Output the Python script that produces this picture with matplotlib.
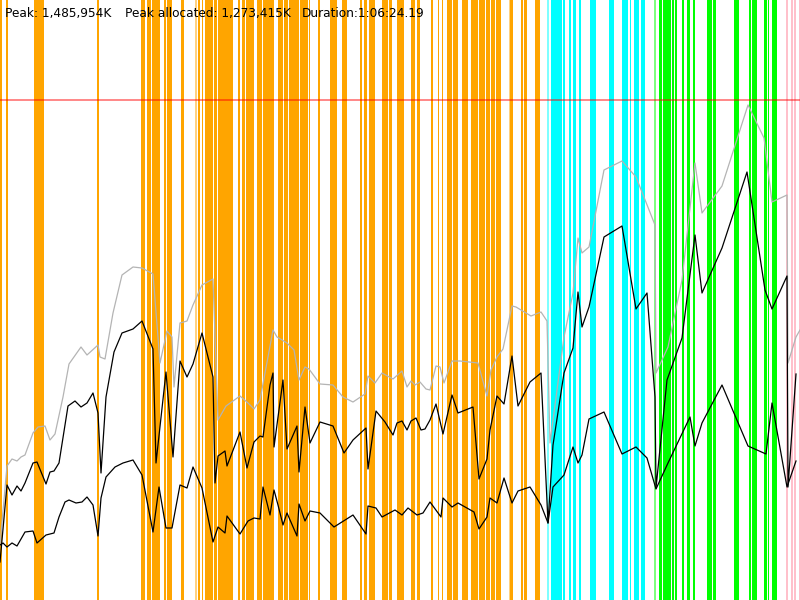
import matplotlib
matplotlib.use("Agg")
import matplotlib.pyplot as plt

# chart units: x = time slot (0..800), y = memory height (peak line = 500)
peak_level = 500
header = ["Peak: 1,485,954K", "Peak allocated: 1,273,415K", "Duration:1:06:24.19"]

# gc events (start, end) per phase
orange_events = [(0, 2), (6, 8), (34, 44), (97, 99), (141, 145), (147, 151), (152, 157),
                 (157, 160), (164, 166), (167, 172), (181, 184), (198, 200), (202, 203),
                 (205, 213), (214, 217), (218, 232), (232, 233), (238, 240), (242, 245),
                 (246, 254), (257, 262), (263, 274), (278, 283), (284, 288), (289, 299),
                 (300, 308), (309, 310), (318, 320), (330, 337), (342, 347), (360, 362),
                 (364, 367), (369, 375), (382, 388), (389, 392), (397, 404), (411, 415),
                 (417, 420), (431, 433), (438, 439), (442, 443), (447, 452), (453, 458),
                 (462, 468), (471, 478), (479, 485), (486, 490), (491, 495), (496, 501),
                 (510, 513), (521, 523), (524, 527), (535, 540)]
orange_minor = [(195, 197), (509, 510), (155, 156)]
cyan_events = [(551, 562), (563, 565), (569, 571), (573, 576), (579, 581), (590, 596),
               (609, 614), (622, 628), (630, 631), (634, 639), (641, 645)]
cyan_minor = [(547, 549)]
green_events = [(659, 662), (663, 667), (667, 671), (672, 674), (675, 677), (682, 684),
                (687, 690), (693, 695), (707, 712), (713, 716), (734, 739), (749, 751),
                (752, 756), (756, 757), (764, 767), (768, 769), (772, 777)]
green_minor = [(654, 656)]
pink_events = [(786, 788), (791, 793), (794, 796), (799, 800)]

# committed heap
total_x = [0, 7, 12, 17, 21, 25, 33, 38, 45, 50, 55, 63, 69, 81, 87, 98, 100, 105, 113, 122,
           133, 142, 153, 160, 167, 172, 174, 180, 187, 193, 202, 213, 218, 226, 240, 248,
           254, 260, 273, 277, 287, 294, 299, 305, 309, 320, 333, 343, 353, 365, 368, 375,
           382, 393, 402, 407, 411, 415, 420, 426, 430, 436, 440, 444, 452, 460, 478, 487,
           491, 497, 503, 512, 516, 531, 541, 547, 550, 564, 573, 578, 582, 589, 604, 622,
           636, 655, 656, 668, 682, 695, 702, 722, 748, 764, 772, 787, 788, 796, 800]
total_y = [55, 134, 141, 139, 143, 145, 167, 173, 174, 160, 166, 203, 236, 253, 245, 255, 243,
           241, 287, 325, 333, 332, 326, 237, 269, 263, 213, 277, 279, 295, 315, 321, 180,
           194, 204, 197, 191, 200, 270, 263, 257, 250, 220, 233, 231, 216, 215, 203, 198,
           206, 224, 217, 227, 221, 229, 213, 219, 215, 218, 211, 210, 234, 233, 217, 239,
           239, 237, 204, 230, 243, 251, 294, 293, 284, 288, 279, 157, 263, 307, 362, 347,
           353, 430, 439, 423, 375, 227, 253, 320, 437, 387, 414, 495, 462, 398, 405, 237, 263,
           270]

# used before gc
used_x = [0, 7, 12, 17, 21, 25, 33, 37, 46, 50, 54, 59, 68, 75, 81, 87, 93, 98, 101, 106,
          114, 122, 133, 142, 153, 156, 166, 173, 180, 187, 193, 202, 213, 215, 218, 225,
          227, 240, 247, 254, 260, 263, 270, 273, 274, 283, 287, 297, 299, 305, 310, 320,
          333, 344, 353, 366, 368, 376, 385, 393, 397, 402, 407, 411, 416, 421, 425, 430,
          436, 443, 452, 458, 473, 479, 487, 490, 497, 504, 512, 518, 530, 541, 548, 553,
          564, 573, 578, 582, 589, 604, 622, 636, 647, 655, 656, 667, 682, 695, 702, 722,
          747, 765, 772, 787, 788, 796]
used_y = [38, 115, 105, 114, 109, 117, 137, 138, 116, 128, 129, 137, 194, 199, 193, 197, 207,
          187, 127, 203, 248, 267, 271, 279, 251, 137, 228, 143, 239, 223, 236, 267, 223, 117,
          144, 149, 134, 168, 132, 158, 164, 163, 215, 227, 153, 220, 151, 174, 128, 193, 157,
          178, 174, 147, 160, 172, 131, 189, 178, 165, 177, 179, 170, 179, 182, 170, 171, 180,
          196, 166, 205, 187, 193, 121, 141, 170, 204, 196, 244, 194, 218, 227, 77, 155, 227,
          252, 308, 273, 293, 363, 374, 291, 307, 203, 112, 220, 262, 365, 307, 352, 428, 310,
          291, 324, 113, 226]

# live after gc
live_x = [0, 3, 7, 12, 17, 25, 33, 37, 46, 54, 59, 65, 69, 76, 82, 87, 93, 98, 101, 106, 115,
          123, 133, 142, 153, 159, 166, 172, 180, 187, 193, 202, 213, 218, 225, 227, 240, 248,
          254, 260, 263, 270, 274, 278, 283, 287, 297, 299, 305, 310, 320, 334, 353, 366, 368,
          376, 382, 395, 402, 408, 417, 423, 430, 441, 443, 452, 458, 474, 479, 487, 490, 497,
          504, 512, 518, 530, 541, 548, 553, 564, 573, 578, 582, 589, 604, 622, 636, 647, 656,
          668, 690, 695, 702, 722, 748, 766, 772, 787, 796]
live_y = [55, 57, 53, 57, 54, 68, 69, 57, 65, 67, 83, 98, 100, 97, 98, 103, 95, 64, 102, 123,
          133, 137, 140, 125, 68, 113, 72, 72, 115, 112, 133, 112, 58, 73, 67, 84, 66, 79, 82,
          81, 113, 85, 110, 95, 75, 87, 64, 96, 79, 89, 87, 73, 85, 66, 94, 92, 83, 90, 85, 92,
          85, 87, 98, 83, 102, 93, 97, 88, 71, 83, 102, 97, 122, 97, 109, 113, 95, 77, 113,
          125, 153, 137, 145, 181, 188, 146, 153, 142, 111, 137, 183, 154, 177, 215, 154, 146,
          197, 113, 139]

fig = plt.figure(figsize=(8, 6), dpi=100)
ax = fig.add_axes([0, 0, 1, 1])
ax.set_xlim(0, 800)
ax.set_ylim(0, 600)
ax.axis("off")

for events, color, alpha in [(orange_events, "#ffa500", 1.0), (orange_minor, "#ffa500", 0.5),
                             (cyan_events, "#00ffff", 1.0), (cyan_minor, "#00ffff", 0.5),
                             (green_events, "#00ff00", 1.0), (green_minor, "#00ff00", 0.5),
                             (pink_events, "#ffc0cb", 1.0)]:
    starts = [a for a, b in events]
    widths = [b - a for a, b in events]
    ax.bar(starts, 600, width=widths, align="edge", color=color, alpha=alpha,
           lw=0, antialiased=False)

ax.axhline(peak_level, color="red", alpha=0.55, lw=1.2)

ax.plot(total_x, total_y, color="#b4b4b4", lw=0.9)
ax.plot(used_x, used_y, color="black", lw=0.9)
ax.plot(live_x, live_y, color="black", lw=0.9)

for txt, px in zip(header, [5, 125, 302]):
    fig.text(px / 800, 1 - 17 / 600, txt, fontsize=8.7, color="black")

fig.savefig("out.png", dpi=100)
